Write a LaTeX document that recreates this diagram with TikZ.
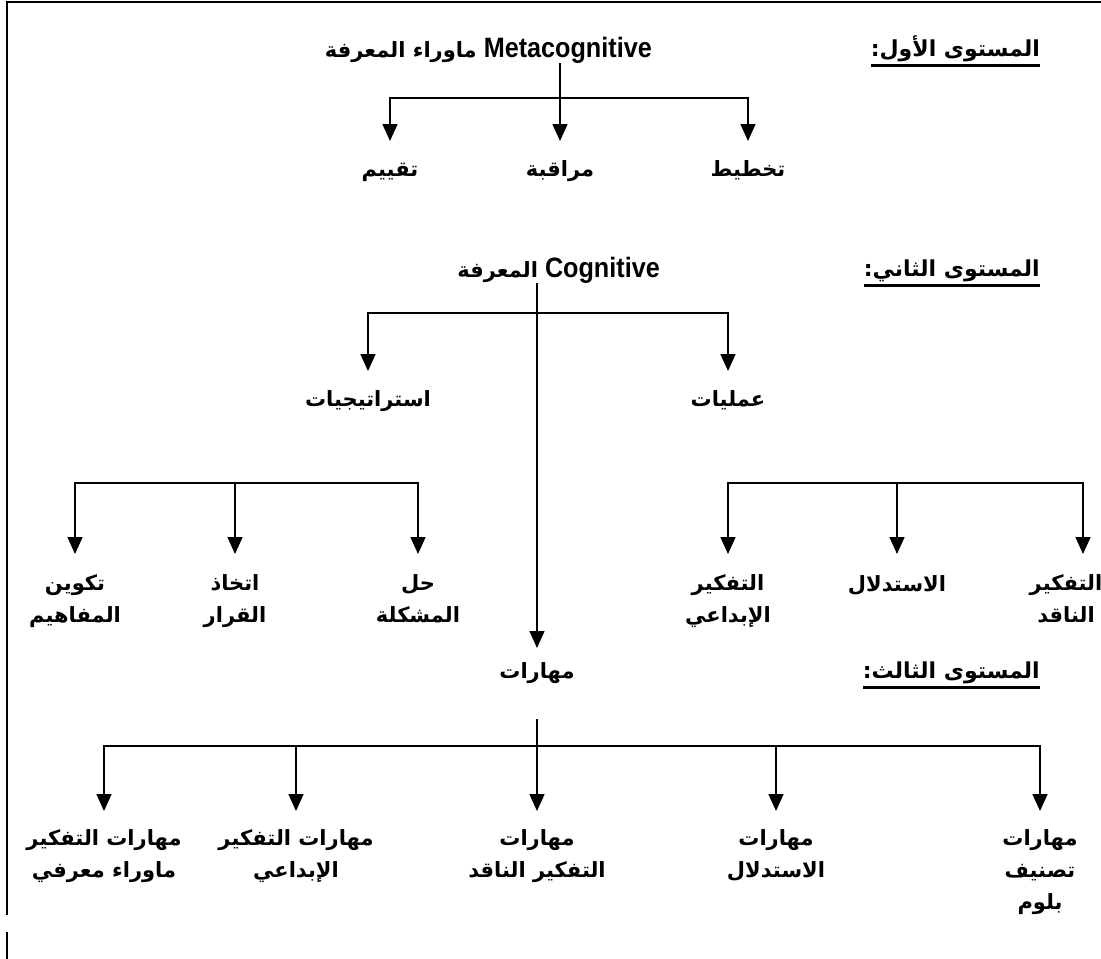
\documentclass[tikz,border=0pt]{standalone}
\usepackage{fontspec}
\setmainfont{Liberation Sans}
\newfontfamily\arfont[Script=Arabic]{DejaVu Sans}
\newfontfamily\narrowfont[FakeStretch=0.9]{Liberation Sans}
\TeXXeTstate=1
\usetikzlibrary{arrows.meta}
% right-to-left run of Arabic words
\newcommand\AR[1]{\beginR #1\endR}
\newcommand\arb{\arfont\bfseries\fontsize{21}{32}\selectfont}
\newcommand\arhead{\arfont\bfseries\fontsize{22}{26}\selectfont}
\newcommand\latb{\narrowfont\bfseries\fontsize{28}{32}\selectfont}
\tikzset{
  conn/.style={line width=1.6pt},
  arr/.style={conn, -{Triangle[width=15pt,length=17pt]}},
  lbl/.style={font=\arb, align=center, inner sep=0pt, anchor=north,
              execute at begin node={\rule{0pt}{17pt}}},
  head/.style={font=\arhead, inner sep=0pt, anchor=base east},
  ttl/.style={inner sep=0pt, anchor=base east},
  uline/.style={line width=3pt}
}
\begin{document}
\begin{tikzpicture}[x=1pt,y=-1pt]
\useasboundingbox (0,0) rectangle (1101,959);

% page frame (top and left rules)
\draw[line width=2pt] (1101,2) -- (7,2) -- (7,915);
\draw[line width=2pt] (7,932) -- (7,959);

% ---------- level one ----------
\node[head] (h1) at (1040,56) {:\AR{المستوى الأول}};
\draw[uline] ([yshift=-9pt]h1.base west) -- ([yshift=-9pt]h1.base east);
\node[ttl] (meta) at (652,57) {{\arb\AR{ماوراء المعرفة}}\hspace{7pt}{\latb Metacognitive}};

\node[lbl] (eval) at (390,159) {\AR{تقييم}};
\node[lbl] (moni) at (560,159) {\AR{مراقبة}};
\node[lbl] (plan) at (748,159) {\AR{تخطيط}};

\coordinate (j1) at (560,98);
\draw[conn] (meta.south -| j1) -- (j1);
\draw[arr] (j1) -| ([yshift=18pt]eval.north);
\draw[arr] (j1) -- ([yshift=18pt]moni.north);
\draw[arr] (j1) -| ([yshift=18pt]plan.north);

% ---------- level two ----------
\node[head] (h2) at (1040,276) {:\AR{المستوى الثاني}};
\draw[uline] ([yshift=-9pt]h2.base west) -- ([yshift=-9pt]h2.base east);
\node[ttl] (cog) at (660,277) {{\arb\AR{المعرفة}}\hspace{7pt}{\latb Cognitive}};

\node[lbl] (strat) at (368,389) {\AR{استراتيجيات}};
\node[lbl] (proc) at (728,389) {\AR{عمليات}};

\coordinate (j2) at (537,313);
\draw[conn] (cog.south -| j2) -- (j2);
\draw[arr] (j2) -| ([yshift=18pt]strat.north);
\draw[arr] (j2) -| ([yshift=18pt]proc.north);

% strategies
\node[lbl] (s1) at (75,574)  {\AR{تكوين}\\\AR{المفاهيم}};
\node[lbl] (s2) at (235,574) {\AR{اتخاذ}\\\AR{القرار}};
\node[lbl] (s3) at (418,574) {\AR{حل}\\\AR{المشكلة}};
\coordinate (sb) at (235,483);
\draw[arr] (sb) -| ([yshift=20pt]s1.north);
\draw[arr] (sb) -- ([yshift=20pt]s2.north);
\draw[arr] (sb) -| ([yshift=20pt]s3.north);

% processes
\node[lbl] (p1) at (728,574)  {\AR{التفكير}\\\AR{الإبداعي}};
\node[lbl] (p2) at (897,574)  {\AR{الاستدلال}};
\node[lbl] (p3) at (1066,574) {\AR{التفكير}\\\AR{الناقد}};
\coordinate (pb) at (897,483);
\draw[arr] (pb) -| ([yshift=20pt]p1.north);
\draw[arr] (pb) -- ([yshift=20pt]p2.north);
\draw[arr] (pb) -| ([xshift=17pt,yshift=20pt]p3.north);

% ---------- level three ----------
\node[head] (h3) at (1040,678) {:\AR{المستوى الثالث}};
\draw[uline] ([yshift=-9pt]h3.base west) -- ([yshift=-9pt]h3.base east);
\node[lbl] (skills) at (537,661) {\AR{مهارات}};
\draw[arr] (j2) -- ([yshift=13pt]skills.north);

\node[lbl] (k1) at (104,829)  {\AR{مهارات التفكير}\\\AR{ماوراء معرفي}};
\node[lbl] (k2) at (296,829)  {\AR{مهارات التفكير}\\\AR{الإبداعي}};
\node[lbl] (k3) at (537,829)  {\AR{مهارات}\\\AR{التفكير الناقد}};
\node[lbl] (k4) at (776,829)  {\AR{مهارات}\\\AR{الاستدلال}};
\node[lbl] (k5) at (1040,829) {\AR{مهارات}\\\AR{تصنيف}\\\AR{بلوم}};

\coordinate (j3) at (537,746);
\draw[conn] ([yshift=-35pt]skills.south) -- (j3);
\draw[arr] (j3) -| ([yshift=18pt]k1.north);
\draw[arr] (j3) -| ([yshift=18pt]k2.north);
\draw[arr] (j3) -- ([yshift=18pt]k3.north);
\draw[arr] (j3) -| ([yshift=18pt]k4.north);
\draw[arr] (j3) -| ([yshift=18pt]k5.north);
\end{tikzpicture}
\end{document}
